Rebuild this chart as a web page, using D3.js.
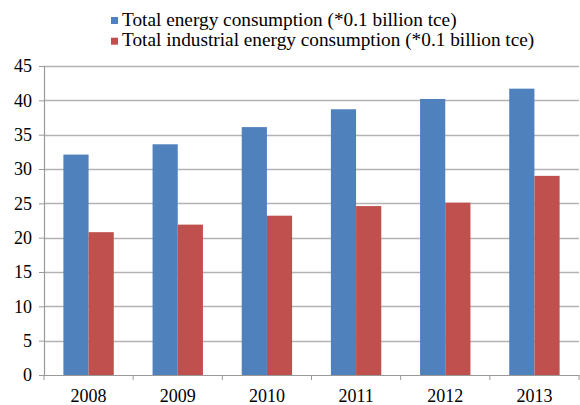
<!DOCTYPE html>
<html>
<head>
  <meta charset="utf-8">
  <title>Energy consumption</title>
  <script src="https://d3js.org/d3.v7.min.js"></script>
  <style>
    body { margin: 0; background: white; }
    .lbl { font-family: 'Liberation Serif', 'Times New Roman', serif; }
  </style>
</head>
<body>
  <div id="container"></div>
  <script>
  const width = 580,
    height = 405;
  const margin = { top: 66, right: 1, bottom: 30, left: 44 };

  // data
  const years = ["2008", "2009", "2010", "2011", "2012", "2013"];
  const seriesNames = [
    "Total energy consumption (*0.1 billion tce)",
    "Total industrial energy consumption (*0.1 billion tce)"
  ];
  const totalEnergy = [32.1, 33.6, 36.1, 38.7, 40.2, 41.7];
  const industrialEnergy = [20.8, 21.9, 23.2, 24.6, 25.1, 29.0];
  const yTicks = [0, 5, 10, 15, 20, 25, 30, 35, 40, 45];
  const colors = ["#4F81BD", "#C0504D"];

  const rows = years.map((yr, i) => ({ year: yr, values: [totalEnergy[i], industrialEnergy[i]] }));

  const svg = d3.select("#container")
    .append("svg")
    .attr("width", width)
    .attr("height", height)
    .style("display", "block");

  const x0 = d3.scaleBand()
    .domain(years)
    .range([margin.left, width - margin.right]);

  const x1 = d3.scaleBand()
    .domain([0, 1])
    .range([0, x0.bandwidth()])
    .paddingOuter(0.77);

  const y = d3.scaleLinear()
    .domain([0, 45])
    .range([height - margin.bottom, margin.top]);

  // gridlines
  svg.append("g")
    .selectAll("line")
    .data(yTicks.filter(d => d > 0))
    .enter()
    .append("line")
    .attr("x1", margin.left)
    .attr("x2", width - margin.right)
    .attr("y1", d => Math.round(y(d)) + 0.5)
    .attr("y2", d => Math.round(y(d)) + 0.5)
    .attr("stroke", "#B3B3B3")
    .attr("stroke-width", 1.3);

  // bars
  const groups = svg.append("g")
    .selectAll("g")
    .data(rows)
    .enter()
    .append("g")
    .attr("transform", d => "translate(" + x0(d.year) + ",0)");

  groups.selectAll("rect")
    .data(d => d.values.map((v, k) => ({ k: k, v: v })))
    .enter()
    .append("rect")
    .attr("x", d => x1(d.k))
    .attr("width", x1.bandwidth())
    .attr("y", d => y(d.v))
    .attr("height", d => y(0) - y(d.v))
    .attr("fill", d => colors[d.k]);

  // y axis
  const yAxis = svg.append("g")
    .attr("transform", "translate(" + margin.left + ",0)")
    .call(d3.axisLeft(y).tickValues(yTicks).tickSize(5).tickPadding(7));
  yAxis.select(".domain").attr("stroke", "#999").attr("stroke-width", 1.2);
  yAxis.selectAll(".tick line").attr("stroke", "#999");
  yAxis.selectAll(".tick text")
    .attr("class", "lbl")
    .attr("font-size", 18)
    .attr("fill", "#000");

  // x axis
  const xAxis = svg.append("g")
    .attr("transform", "translate(0," + y(0) + ")")
    .call(d3.axisBottom(x0).tickSize(0).tickPadding(14));
  xAxis.select(".domain").attr("stroke", "#999").attr("stroke-width", 1.2);
  xAxis.selectAll(".tick text")
    .attr("class", "lbl")
    .attr("font-size", 18)
    .attr("fill", "#000");
  // ticks between categories
  const edges = years.map(d => x0(d)).concat([x0.range()[1]]);
  xAxis.selectAll(".sep")
    .data(edges)
    .enter()
    .append("line")
    .attr("class", "sep")
    .attr("x1", d => d)
    .attr("x2", d => d)
    .attr("y1", 0)
    .attr("y2", 5)
    .attr("stroke", "#999");

  // legend
  const legend = svg.append("g")
    .selectAll("g")
    .data(seriesNames)
    .enter()
    .append("g")
    .attr("transform", (d, i) => "translate(111," + (17 + i * 20.7) + ")");

  legend.append("rect")
    .attr("width", 7)
    .attr("height", 7)
    .attr("fill", (d, i) => colors[i]);

  legend.append("text")
    .attr("class", "lbl")
    .attr("x", 11)
    .attr("y", 8.5)
    .attr("font-size", 19.3)
    .text(d => d);
  </script>
</body>
</html>
